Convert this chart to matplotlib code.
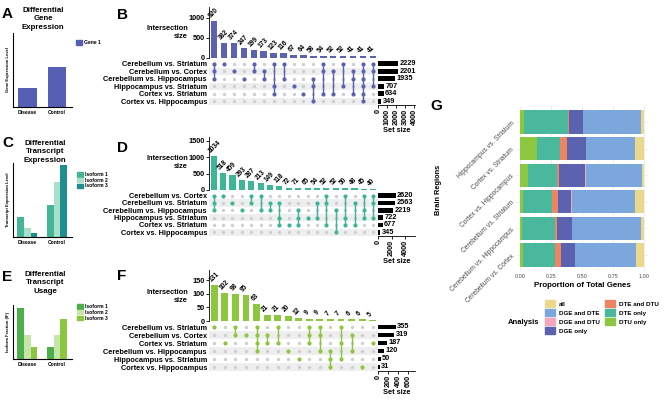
import numpy as np
import matplotlib
matplotlib.use("Agg")
import matplotlib.pyplot as plt
from matplotlib.patches import Patch

plt.rcParams["font.family"] = ["Liberation Sans", "DejaVu Sans"]

# ---------------- data ----------------
groups = ["Disease", "Control"]

a_labels = ["Gene 1"]
a_values = [[0.26, 0.54]]

c_labels = ["Isoform 1", "Isoform 2", "Isoform 3"]
c_values = [[0.27, 0.43], [0.12, 0.74], [0.055, 0.97]]

e_labels = ["Isoform 1", "Isoform 2", "Isoform 3"]
e_values = [[0.94, 0.22], [0.44, 0.44], [0.22, 0.74]]

b_sets = ["Cerebellum vs. Striatum", "Cerebellum vs. Cortex", "Cerebellum vs. Hippocampus",
          "Hippocampus vs. Striatum", "Cortex vs. Striatum", "Cortex vs. Hippocampus"]
b_set_sizes = [2229, 2201, 1935, 707, 634, 349]
b_counts = [920, 382, 374, 247, 199, 173, 123, 116, 67, 64, 58, 54, 52, 52, 41, 41, 41]
b_members = [[0, 1, 2], [0], [1], [2], [0, 1], [1, 2], [0, 3, 4], [0, 2], [3], [4],
             [2, 3, 5], [0, 1, 4], [1, 4], [0, 3], [1, 2, 4], [0, 1, 2, 3, 4, 5], [0, 1, 3]]

d_sets = ["Cerebellum vs. Cortex", "Cerebellum vs. Striatum", "Cerebellum vs. Hippocampus",
          "Hippocampus vs. Striatum", "Cortex vs. Striatum", "Cortex vs. Hippocampus"]
d_set_sizes = [2620, 2563, 2219, 722, 677, 345]
d_counts = [1034, 518, 459, 293, 287, 213, 149, 118, 72, 71, 65, 54, 52, 52, 50, 48, 45, 40]
d_members = [[0, 1, 2], [0], [1], [2], [0, 1], [0, 2], [1, 2], [1, 3, 4], [4], [2, 3, 4],
             [3], [1, 3], [0, 1, 4], [2, 5], [0, 3, 4], [1, 4], [0, 2, 3], [0, 1, 3]]

f_sets = ["Cerebellum vs. Striatum", "Cerebellum vs. Cortex", "Cortex vs. Striatum",
          "Cerebellum vs. Hippocampus", "Hippocampus vs. Striatum", "Cortex vs. Hippocampus"]
f_set_sizes = [355, 319, 187, 120, 50, 31]
f_counts = [131, 102, 98, 95, 63, 21, 21, 20, 12, 9, 9, 7, 7, 6, 6, 5]
f_members = [[0], [2], [0, 1], [1], [0, 1, 2, 3], [1, 2], [0, 2], [3], [4], [0, 1, 2],
             [0, 1, 3], [3, 4, 5], [0, 2, 4], [1, 3], [5], [2]]

g_regions = ["Cerebellum vs. Cortex", "Cerebellum vs. Hippocampus", "Cerebellum vs. Striatum",
             "Cortex vs. Hippocampus", "Cortex vs. Striatum", "Hippocampus vs. Striatum"]
g_categories = ["all", "DGE and DTE", "DGE and DTU", "DGE only",
                "DTE and DTU", "DTE only", "DTU only"]
g_dtu_only = [0.027, 0.019, 0.027, 0.062, 0.134, 0.030]
g_dte_only = [0.257, 0.263, 0.228, 0.233, 0.188, 0.357]
g_dte_dtu = [0.046, 0.016, 0.050, 0.016, 0.054, 0.005]
g_dge_only = [0.110, 0.118, 0.110, 0.217, 0.155, 0.115]
g_dge_dtu = [0.002, 0.002, 0.002, 0.002, 0.002, 0.002]
g_dge_dte = [0.497, 0.556, 0.510, 0.456, 0.398, 0.468]
g_all = [0.061, 0.026, 0.073, 0.014, 0.069, 0.023]

# ---------------- layout helpers ----------------
W, H = 669, 401
fig = plt.figure(figsize=(W / 100, H / 100), dpi=100)


def box(x0, y0, x1, y1):
    return [x0 / W, 1 - y1 / H, (x1 - x0) / W, (y1 - y0) / H]


def ftext(x, y, s, **kw):
    fig.text(x / W, 1 - y / H, s, **kw)


def concept(rect, values, colors, labels, ylabel, legend_xy):
    ax = fig.add_axes(box(*rect))
    k = len(values)
    w = 0.63 if k == 1 else 0.22
    x = np.arange(len(groups))
    for i, (vals, col) in enumerate(zip(values, colors)):
        ax.bar(x + (i - (k - 1) / 2) * w, vals, w, color=col)
    ax.set_xlim(-0.48, 1.5)
    ax.set_ylim(0, 1)
    for s in ["top", "right"]:
        ax.spines[s].set_visible(False)
    for s in ["left", "bottom"]:
        ax.spines[s].set_linewidth(0.8)
    ax.set_yticks([])
    ax.set_xticks(x)
    ax.set_xticklabels(groups, fontsize=3.6, fontweight="bold")
    ax.tick_params(axis="x", length=0, pad=2)
    ax.set_ylabel(ylabel, fontsize=3, fontweight="bold", labelpad=2)
    handles = [Patch(color=c) for c in colors]
    fig.legend(handles, labels, loc="upper left",
               bbox_to_anchor=(legend_xy[0] / W, 1 - legend_xy[1] / H),
               frameon=False, prop={"size": 3.6, "weight": "bold"},
               handlelength=1.1, handleheight=1.0, labelspacing=0.15,
               handletextpad=0.5, borderpad=0, borderaxespad=0)


def upset(top, sets, counts, members, set_sizes, color, ymax, yticks,
          smax, sticks, label_y, rows_bottom):
    n = len(counts)
    nr = len(sets)
    bar_bottom = top[1]
    bax = fig.add_axes(box(209, top[0], 378, bar_bottom))
    x = np.arange(n)
    bax.bar(x, counts, width=0.65, color=color)
    for xi, c in zip(x, counts):
        bax.annotate(str(c), (xi, c), xytext=(-1.2, 1.2), textcoords="offset points",
                     rotation=45, ha="left", va="bottom", rotation_mode="anchor",
                     fontsize=4.8, fontweight="bold")
    bax.set_xlim(-0.5, n - 0.5)
    bax.set_ylim(0, ymax)
    bax.set_xticks([])
    bax.set_yticks(yticks)
    bax.set_yticklabels([str(t) for t in yticks], fontsize=5.3, fontweight="bold")
    bax.tick_params(axis="y", length=2, width=0.6, pad=1)
    for s in ["top", "right", "bottom"]:
        bax.spines[s].set_visible(False)
    bax.spines["left"].set_linewidth(0.6)
    ftext(188, label_y, "Intersection\nsize", ha="right", va="center",
          fontsize=5.3, fontweight="bold", linespacing=1.2)

    mat_top = bar_bottom + 2
    max_ = fig.add_axes(box(209, mat_top, 378, rows_bottom))
    max_.set_xlim(-0.5, n - 0.5)
    max_.set_ylim(nr - 0.5, -0.5)
    for r in range(1, nr, 2):
        max_.axhspan(r - 0.5, r + 0.5, color="#EEEEEE", lw=0, zorder=0)
    xx, yy = np.meshgrid(x, np.arange(nr))
    max_.scatter(xx.ravel(), yy.ravel(), s=6, color="#CFCFCF", lw=0, zorder=2)
    for xi, m in zip(x, members):
        if len(m) > 1:
            max_.plot([xi, xi], [min(m), max(m)], color=color, lw=1.0, zorder=3)
        max_.scatter([xi] * len(m), m, s=9, color=color, lw=0, zorder=4)
    max_.set_xticks([])
    max_.set_yticks(range(nr))
    max_.set_yticklabels(sets, fontsize=5.3, fontweight="bold")
    max_.tick_params(axis="y", length=0, pad=1.5)
    for s in max_.spines.values():
        s.set_visible(False)

    sax = fig.add_axes(box(378, mat_top, 415, rows_bottom))
    sax.barh(np.arange(nr), set_sizes, height=0.62, color="black")
    for r, v in enumerate(set_sizes):
        sax.text(v + smax * 0.04, r, str(v), va="center", ha="left",
                 fontsize=5.3, fontweight="bold")
    sax.set_ylim(nr - 0.5, -0.5)
    sax.set_xlim(0, smax)
    sax.set_yticks([])
    sax.set_xticks(sticks)
    sax.set_xticklabels([str(t) for t in sticks], rotation=90, fontsize=5.3,
                        fontweight="bold")
    sax.tick_params(axis="x", length=2, width=0.6, pad=1)
    for s in ["top", "right", "left"]:
        sax.spines[s].set_visible(False)
    sax.spines["bottom"].set_linewidth(0.6)
    sax.set_xlabel("Set size", fontsize=5.3, fontweight="bold", labelpad=1)


# ---------------- left concept panels ----------------
ftext(2, 14, "A", fontsize=11, fontweight="bold", va="center")
ftext(43, 19, "Differential\nGene\nExpression", ha="center", va="center",
      fontsize=5.7, fontweight="bold", linespacing=1.25)
concept((13, 33, 72, 107), a_values, ["#5560B5"], a_labels,
        "Gene Expression Level", (76, 40))

ftext(2, 143, "C", fontsize=11, fontweight="bold", va="center")
ftext(45, 152, "Differential\nTranscript\nExpression", ha="center", va="center",
      fontsize=5.7, fontweight="bold", linespacing=1.25)
concept((13, 163, 72, 237), c_values, ["#45B59A", "#A9DEC9", "#1E8F8E"], c_labels,
        "Transcript Expression Level", (77, 172))

ftext(2, 277, "E", fontsize=11, fontweight="bold", va="center")
ftext(45, 283, "Differential\nTranscript\nUsage", ha="center", va="center",
      fontsize=5.7, fontweight="bold", linespacing=1.25)
concept((13, 305, 72, 359), e_values, ["#4DAF4A", "#C6E5A8", "#8CC63F"], e_labels,
        "Isoform Fraction (IF)", (77, 304))

# ---------------- upset panels ----------------
ftext(117, 15, "B", fontsize=11, fontweight="bold", va="center")
upset((7, 58), b_sets, b_counts, b_members, b_set_sizes, "#5B63B0",
      1270, [0, 500, 1000], 4100, [0, 1000, 2000, 3000, 4000], 32, 105)

ftext(117, 148, "D", fontsize=11, fontweight="bold", va="center")
upset((137, 190), d_sets, d_counts, d_members, d_set_sizes, "#3DB597",
      1620, [0, 500, 1000, 1500], 5480, [0, 2000, 4000], 163, 236)

ftext(117, 276, "F", fontsize=11, fontweight="bold", va="center")
upset((270, 321), f_sets, f_counts, f_members, f_set_sizes, "#8DC63F",
      187, [0, 50, 100, 150], 740, [0, 200, 400, 600], 296, 371)

# ---------------- panel G ----------------
ftext(430, 106, "G", fontsize=11, fontweight="bold", va="center")
gax = fig.add_axes(box(516, 106, 648, 271))
g_stack = [("DTU only", g_dtu_only, "#8DC63F"),
           ("DTE only", g_dte_only, "#4AB89C"),
           ("DTE and DTU", g_dte_dtu, "#EE8462"),
           ("DGE only", g_dge_only, "#5B62AF"),
           ("DGE and DTU", g_dge_dtu, "#F5A7BC"),
           ("DGE and DTE", g_dge_dte, "#7BA7DD"),
           ("all", g_all, "#EAD98C")]
colors = {name: col for name, _, col in g_stack}
left = np.zeros(len(g_regions))
yy = np.arange(len(g_regions))
for name, vals, col in g_stack:
    gax.barh(yy, vals, left=left, height=0.87, color=col, zorder=2)
    left += np.array(vals)
gax.set_xlim(-0.032, 1.032)
gax.set_ylim(-0.6, len(g_regions) - 0.4)
gax.set_xticks([0, 0.25, 0.5, 0.75, 1.0])
gax.set_xticklabels(["0.00", "0.25", "0.50", "0.75", "1.00"], fontsize=4, color="#4D4D4D")
gax.set_xticks([0.125, 0.375, 0.625, 0.875], minor=True)
gax.set_yticks(yy)
gax.set_yticklabels(g_regions, rotation=45, ha="right", va="center",
                    rotation_mode="anchor", fontsize=4.8, color="#4D4D4D")
gax.tick_params(which="both", length=0, pad=2)
gax.grid(True, which="major", color="#EBEBEB", lw=0.6, zorder=0)
gax.grid(True, which="minor", axis="x", color="#F3F3F3", lw=0.4, zorder=0)
gax.set_axisbelow(True)
for s in gax.spines.values():
    s.set_visible(False)
gax.set_xlabel("Proportion of Total Genes", fontsize=5.7, fontweight="bold", labelpad=2)
ftext(438, 190, "Brain Regions", rotation=90, ha="center", va="center",
      fontsize=5.3, fontweight="bold")

ftext(524, 322, "Analysis", ha="center", va="center", fontsize=5.5, fontweight="bold")
fig.legend([Patch(color=colors[c]) for c in g_categories], g_categories, ncol=2,
           loc="upper left", bbox_to_anchor=(545 / W, 1 - 300 / H), frameon=False,
           prop={"size": 4.5, "weight": "bold"}, handlelength=1.6, handleheight=1.45,
           labelspacing=0.25, handletextpad=0.6, columnspacing=0.9,
           borderpad=0, borderaxespad=0)

fig.savefig("out.png", dpi=100)
